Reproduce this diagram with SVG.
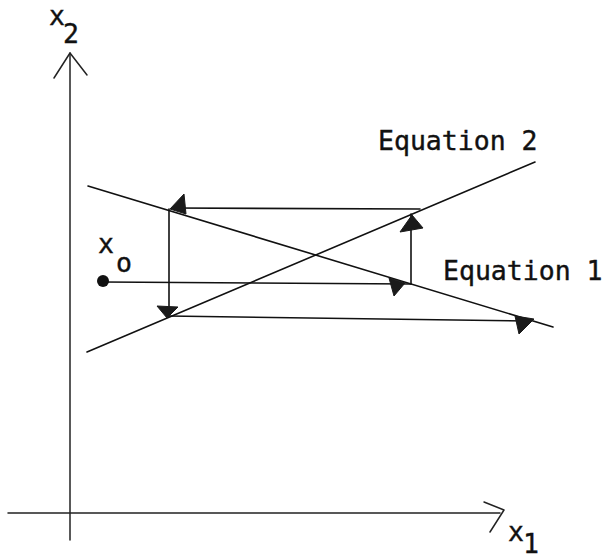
<svg xmlns="http://www.w3.org/2000/svg" width="606" height="560" viewBox="0 0 606 560">
<style>
.ln{stroke:#111;stroke-width:1.6;fill:none;stroke-linecap:round}
.ax{stroke:#222;stroke-width:1.5;fill:none;stroke-linecap:round;stroke-linejoin:round}
.ah{fill:#1a1a1a;stroke:#1a1a1a;stroke-width:1;stroke-linejoin:round}
.t{font-family:"DejaVu Sans Mono","Liberation Mono",monospace;font-size:26.5px;fill:#111;stroke:#111;stroke-width:0.4}
</style>
<rect width="606" height="560" fill="#fff"/>
<g id="axes">
<line class="ax" x1="70" y1="53" x2="70" y2="540"/>
<polyline class="ax" points="54,78 70,53 87,75"/>
<line class="ax" x1="8" y1="513" x2="500" y2="513"/>
<polyline class="ax" points="484,502 504,510 490,532"/>
</g>
<g id="labels">
<text class="t" x="49" y="25">x</text>
<text class="t" x="63" y="43">2</text>
<text class="t" x="508" y="541">x</text>
<text class="t" x="523" y="553">1</text>
<text class="t" x="98" y="253">x</text>
<text class="t" x="116" y="272">o</text>
<text class="t" x="378" y="150">Equation 2</text>
<text class="t" x="443" y="280">Equation 1</text>
</g>
<g id="equation-lines">
<line class="ln" x1="88" y1="186" x2="553" y2="327"/>
<line class="ln" x1="87" y1="352" x2="535" y2="162"/>
</g>
<g id="iteration">
<circle cx="103" cy="281" r="6" fill="#111"/>
<line class="ln" x1="103" y1="282" x2="411" y2="284"/>
<line class="ln" x1="411" y1="284" x2="411" y2="214"/>
<line class="ln" x1="420" y1="209" x2="172" y2="208"/>
<line class="ln" x1="169" y1="209" x2="169" y2="315"/>
<line class="ln" x1="168" y1="316" x2="530" y2="321"/>
<polygon class="ah" points="389,278 405,283 394,296"/>
<polygon class="ah" points="412,215 400,232 423,228"/>
<polygon class="ah" points="170,209 184,194 186,214"/>
<polygon class="ah" points="157,306 178,307 167,318"/>
<polygon class="ah" points="515,316 534,319 519,334"/>
</g>
</svg>
